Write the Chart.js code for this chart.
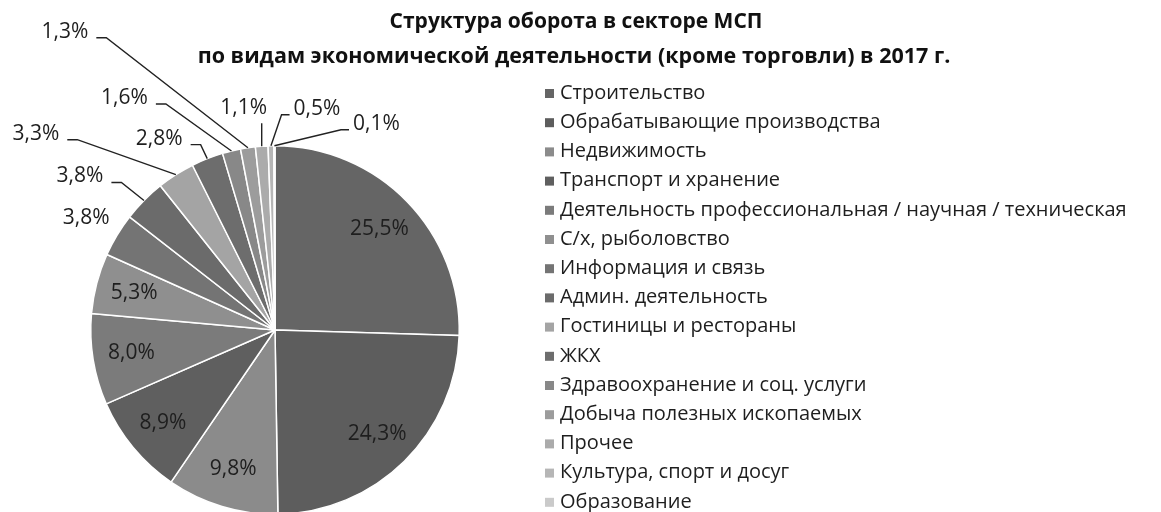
<!DOCTYPE html>
<html>
<head>
<meta charset="utf-8">
<script src="https://cdn.jsdelivr.net/npm/chart.js@4"></script>
<style>
  html, body { margin: 0; padding: 0; background: #fff; overflow: hidden; }
</style>
</head>
<body>
<canvas id="grafico" width="1161" height="530"></canvas>
<script>
// Данные диаграммы
const titleLines = [
  'Структура оборота в секторе МСП',
  'по видам экономической деятельности (кроме торговли) в 2017 г.'
];
const categories = [
  'Строительство',
  'Обрабатывающие производства',
  'Недвижимость',
  'Транспорт и хранение',
  'Деятельность профессиональная / научная / техническая',
  'С/х, рыболовство',
  'Информация и связь',
  'Админ. деятельность',
  'Гостиницы и рестораны',
  'ЖКХ',
  'Здравоохранение и соц. услуги',
  'Добыча полезных ископаемых',
  'Прочее',
  'Культура, спорт и досуг',
  'Образование'
];
const shares = [25.5, 24.3, 9.8, 8.9, 8.0, 5.3, 3.8, 3.8, 3.3, 2.8, 1.6, 1.3, 1.1, 0.5, 0.1];

// оттенки серого для секторов
const sliceColors = [
  '#656565', '#5d5d5d', '#8b8b8b', '#5f5f5f', '#7b7b7b',
  '#8f8f8f', '#747474', '#6b6b6b', '#a4a4a4', '#6d6d6d',
  '#888888', '#9c9c9c', '#ababab', '#b6b6b6', '#cacaca'
];

// сдвиг внешних подписей от края сектора: [dx, dy, тип выноски]
const outsideLabels = {
  6: [-31, -17, 'none'],
  7: [-64, -24, 'left'],
  8: [-140, -41, 'left'],
  9: [-48, -20, 'left'],
  10: [-107, -53, 'left'],
  11: [-183, -116, 'left'],
  12: [-18, -38, 'up'],
  13: [46, -37, 'right'],
  14: [102, -22, 'right']
};

const FONT = '"Open Sans", "Noto Sans", sans-serif';
const TEXT_COLOR = '#1e1e1e';

function formatShare(v) {
  return v.toFixed(1).replace('.', ',') + '%';
}

// Плагин: заголовок, подписи данных с выносками и легенда
const decorPlugin = {
  id: 'decor',
  afterDraw(chart) {
    const ctx = chart.ctx;
    const meta = chart.getDatasetMeta(0);
    ctx.save();

    // заголовок
    ctx.fillStyle = '#111';
    ctx.font = 'bold 21px ' + FONT;
    ctx.textAlign = 'center';
    ctx.textBaseline = 'middle';
    ctx.fillText(titleLines[0], 576, 22);
    ctx.font = 'bold 21.5px ' + FONT;
    ctx.fillText(titleLines[1], 574, 57);

    // подписи данных
    ctx.font = '21px ' + FONT;
    ctx.strokeStyle = '#222';
    ctx.lineWidth = 1.4;
    meta.data.forEach((arc, i) => {
      const p = arc.getProps(['x', 'y', 'startAngle', 'endAngle', 'outerRadius'], true);
      const mid = (p.startAngle + p.endAngle) / 2;
      const text = formatShare(shares[i]);
      ctx.fillStyle = TEXT_COLOR;
      const place = outsideLabels[i];
      if (!place) {
        const r = p.outerRadius * 0.79;
        ctx.fillText(text, p.x + Math.cos(mid) * r, p.y + Math.sin(mid) * r);
        return;
      }
      const ex = p.x + Math.cos(mid) * p.outerRadius;
      const ey = p.y + Math.sin(mid) * p.outerRadius;
      const lx = ex + place[0];
      const ly = ey + place[1];
      ctx.fillText(text, lx, ly);
      const w = ctx.measureText(text).width;
      ctx.beginPath();
      if (place[2] === 'left') {
        const sx = lx + w / 2 + 8;
        ctx.moveTo(sx, ly + 6);
        ctx.lineTo(sx + 10, ly + 6);
        ctx.lineTo(ex, ey);
      } else if (place[2] === 'right') {
        const sx = lx - w / 2 - 4;
        ctx.moveTo(sx, ly + 6);
        ctx.lineTo(sx - 8, ly + 6);
        ctx.lineTo(ex, ey);
      } else if (place[2] === 'up') {
        ctx.moveTo(ex, ly + 15);
        ctx.lineTo(ex, ey);
      }
      ctx.stroke();
    });

    // легенда
    ctx.font = '20px ' + FONT;
    ctx.textAlign = 'left';
    categories.forEach((name, i) => {
      const y = 93 + i * 29.2;
      ctx.fillStyle = sliceColors[i];
      ctx.fillRect(545, y - 4, 9, 9);
      ctx.fillStyle = TEXT_COLOR;
      ctx.fillText(name, 560, y);
    });
    ctx.restore();
  }
};

const ctx = document.getElementById('grafico').getContext('2d');
const grafico = new Chart(ctx, {
  type: 'pie',
  data: {
    labels: categories,
    datasets: [{
      data: shares,
      backgroundColor: sliceColors,
      borderColor: '#ffffff',
      borderWidth: 1.5
    }]
  },
  options: {
    responsive: false,
    animation: false,
    layout: {
      padding: { left: 90, right: 701, top: 145, bottom: 15 }
    },
    plugins: {
      legend: { display: false },
      tooltip: { enabled: false },
      title: { display: false }
    }
  },
  plugins: [decorPlugin]
});
</script>
</body>
</html>
